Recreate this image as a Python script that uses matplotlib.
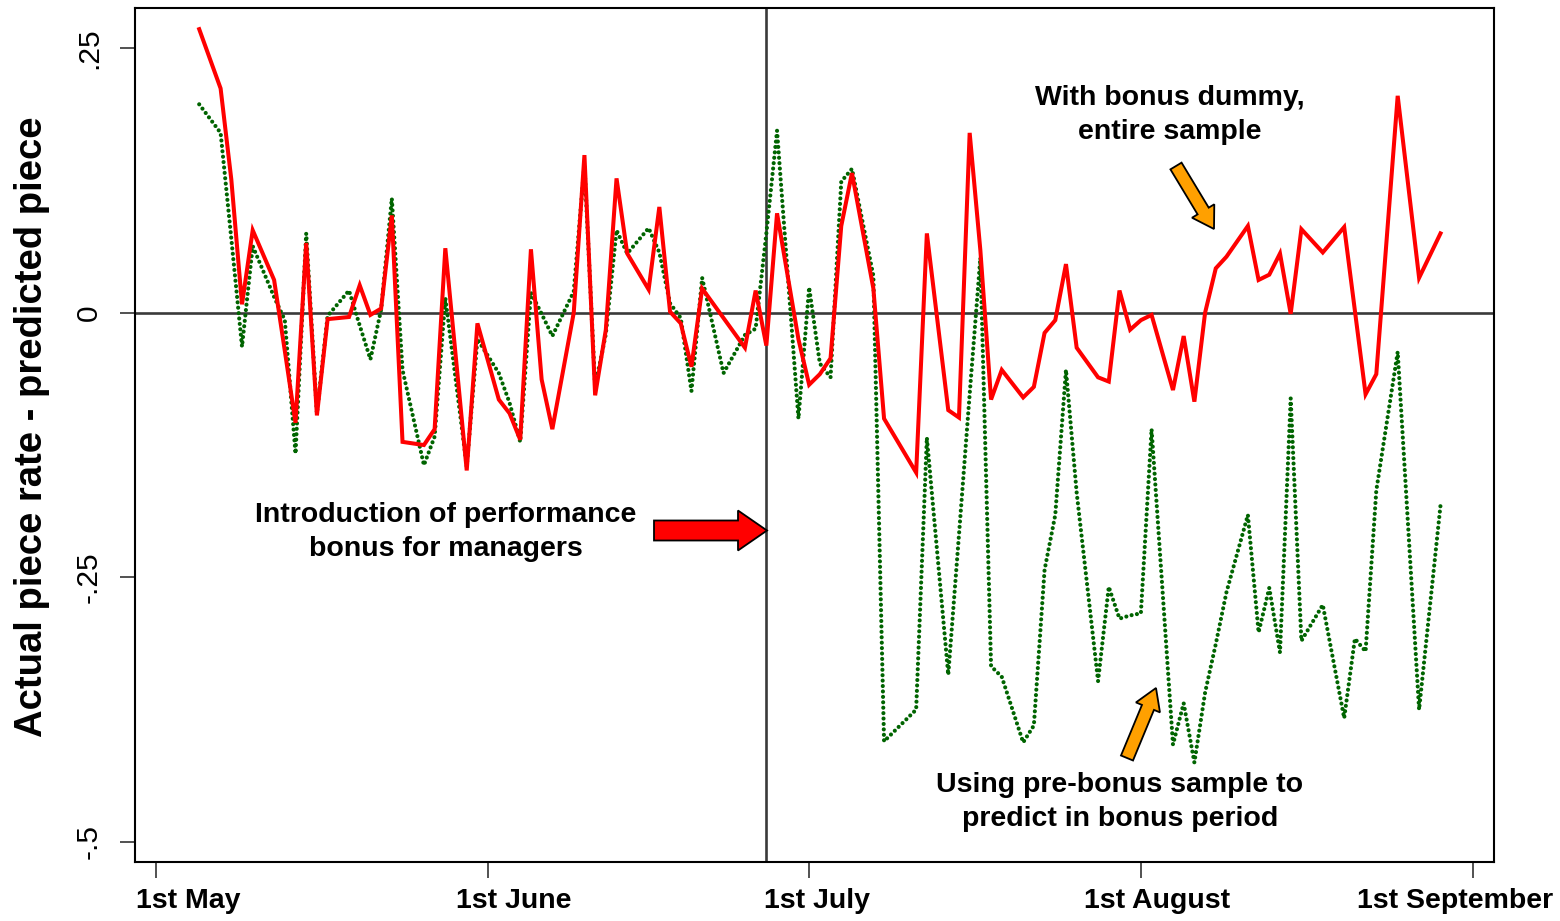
import datetime as dt
import matplotlib
matplotlib.use("Agg")
import matplotlib.pyplot as plt
from matplotlib.patches import FancyArrowPatch, ArrowStyle
from matplotlib.transforms import ScaledTranslation

# ---------------- data ----------------
start_date = dt.date(2003, 5, 1)
day_offsets = [4, 6, 7, 8, 9, 11, 12, 13, 14, 15, 16, 18, 19, 20, 21, 22, 23, 25, 26, 27,
               29, 30, 32, 33, 34, 35, 36, 37, 39, 40, 41, 42, 43, 44, 46, 47, 48, 49, 50, 51,
               53, 55, 56, 57, 58, 60, 61, 62, 63, 64, 65, 67, 68, 71, 72, 74, 75, 76, 77, 78,
               79, 81, 82, 83, 84, 85, 86, 88, 89, 90, 91, 92, 93, 95, 96, 97, 98, 99, 100, 102,
               103, 104, 105, 106, 107, 109, 111, 112, 113, 114, 116, 118, 120]

with_bonus_dummy = [0.268, 0.212, 0.126, 0.008, 0.078, 0.031, -0.036, -0.104, 0.066, -0.097,
                    -0.006, -0.004, 0.026, -0.002, 0.004, 0.092, -0.122, -0.125, -0.110, 0.061,
                    -0.149, -0.010, -0.082, -0.095, -0.120, 0.060, -0.063, -0.110, 0.000, 0.149,
                    -0.078, -0.016, 0.127, 0.056, 0.022, 0.100, 0.001, -0.010, -0.051, 0.023,
                    -0.005, -0.033, 0.021, -0.031, 0.094, -0.025, -0.068, -0.058, -0.043, 0.082,
                    0.132, 0.023, -0.100, -0.151, 0.075, -0.092, -0.099, 0.170, 0.059, -0.082,
                    -0.054, -0.080, -0.070, -0.019, -0.007, 0.046, -0.033, -0.061, -0.065, 0.021,
                    -0.016, -0.007, -0.002, -0.073, -0.022, -0.084, 0.000, 0.042, 0.053, 0.082,
                    0.031, 0.036, 0.056, -0.001, 0.079, 0.057, 0.081, 0.002, -0.077, -0.058,
                    0.205, 0.033, 0.075]

pre_bonus_sample = [0.197, 0.170, 0.070, -0.032, 0.063, 0.015, -0.007, -0.133, 0.075, -0.095,
                    -0.003, 0.021, -0.012, -0.044, 0.003, 0.108, -0.054, -0.144, -0.117, 0.014,
                    -0.145, -0.025, -0.057, -0.085, -0.122, 0.019, -0.001, -0.022, 0.020, 0.140,
                    -0.070, -0.020, 0.078, 0.056, 0.080, 0.057, 0.009, -0.005, -0.074, 0.033,
                    -0.057, -0.021, -0.015, 0.075, 0.172, -0.100, 0.024, -0.048, -0.061, 0.124,
                    0.136, 0.035, -0.405, -0.375, -0.118, -0.342, -0.210, -0.077, 0.052, -0.334,
                    -0.344, -0.406, -0.390, -0.243, -0.191, -0.054, -0.170, -0.348, -0.259, -0.289,
                    -0.286, -0.284, -0.110, -0.408, -0.369, -0.425, -0.359, -0.313, -0.264, -0.191,
                    -0.302, -0.260, -0.321, -0.081, -0.310, -0.276, -0.383, -0.308, -0.320, -0.168,
                    -0.037, -0.375, -0.182]

bonus_intro_date = dt.date(2003, 6, 27)
x_tick_dates = [dt.date(2003, 5, 1), dt.date(2003, 6, 1), dt.date(2003, 7, 1),
                dt.date(2003, 8, 1), dt.date(2003, 9, 1)]
x_tick_labels = ["1st May", "1st June", "1st July", "1st August", "1st September"]
y_ticks = [0.25, 0.0, -0.25, -0.5]
y_tick_labels = [".25", "0", "-.25", "-.5"]

# ---------------- figure ----------------
plt.rcParams['font.family'] = ['Liberation Sans', 'DejaVu Sans']
W, H = 1560, 921
fig = plt.figure(figsize=(W / 100, H / 100), dpi=100)
ax = fig.add_axes([135 / W, 1 - 862 / H, (1494 - 135) / W, (862 - 8) / H])

dates = [start_date + dt.timedelta(days=d) for d in day_offsets]

ax.axhline(0, color='#3a3a3a', lw=1.9, zorder=1)
ax.axvline(bonus_intro_date, color='#3a3a3a', lw=1.9, zorder=1)

ax.plot(dates, pre_bonus_sample, color='#006400', lw=3.0,
        linestyle=(0, (0.001, 1.3)), dash_capstyle='round', zorder=2)
ax.plot(dates, with_bonus_dummy, color='#ff0000', lw=2.9,
        solid_joinstyle='miter', zorder=3)

ax.set_xlim(start_date - dt.timedelta(days=2.06), start_date + dt.timedelta(days=125.3))
ax.set_ylim(-0.519, 0.288)

ax.set_xticks(x_tick_dates)
ax.set_xticklabels(x_tick_labels, fontsize=20.5, fontweight='bold')
ax.set_yticks(y_ticks)
ax.set_yticklabels(y_tick_labels, fontsize=21.5, rotation=90, va='center')
ax.tick_params(axis='x', length=11.5, width=1.1, pad=7.5, color='#222222')
ax.tick_params(axis='y', length=11, width=1.1, pad=12, color='#222222')
for s in ax.spines.values():
    s.set_linewidth(1.5)

# horizontal placement of the x tick labels as in the reference (pixels)
label_dx = [32, 26, 8, 16, -18]
for lab, dx in zip(ax.get_xticklabels(), label_dx):
    lab.set_transform(lab.get_transform() + ScaledTranslation(dx / 100, 0, fig.dpi_scale_trans))

fig.text(32 / W, 1 - 427 / H, "Actual piece rate - predicted piece", rotation=90,
         ha='center', va='center', fontsize=27.5, fontweight='bold')

# annotations (positions in figure pixels)
def px(x, y):
    return (x / W, 1 - y / H)

txt_kw = dict(ha='center', va='center', fontsize=20.5, fontweight='bold', linespacing=1.38)
fig.text(*px(446, 532), "Introduction of performance\nbonus for managers", **txt_kw)
fig.text(*px(1170, 115), "With bonus dummy,\nentire sample", **txt_kw)
fig.text(*px(1120, 802), "Using pre-bonus sample to\npredict in bonus period", **txt_kw)

k = 72 / 100  # pixels -> points
def block_arrow(p0, p1, tail_w, head_w, head_l, fc):
    style = ArrowStyle.Simple(head_length=head_l * k, head_width=head_w * k, tail_width=tail_w * k)
    a = FancyArrowPatch(px(*p0), px(*p1), transform=fig.transFigure, arrowstyle=style,
                        mutation_scale=1, shrinkA=0, shrinkB=0, fc=fc, ec='black', lw=1.3,
                        joinstyle='miter', zorder=5)
    fig.add_artist(a)

block_arrow((654, 530.5), (767, 530.5), 20, 40, 29, '#ff0000')
block_arrow((1176, 166), (1214, 229), 13, 26, 21, '#ffa000')
block_arrow((1127, 758), (1156, 688), 13, 26, 21, '#ffa000')

fig.savefig("out.png", dpi=100)
